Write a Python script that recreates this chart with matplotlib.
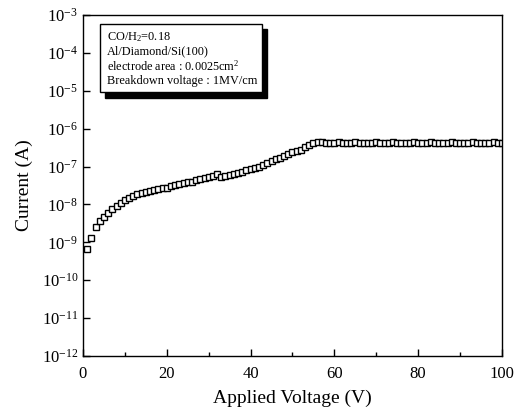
import matplotlib.pyplot as plt
import matplotlib.ticker as mticker
import numpy as np
from matplotlib.patches import Rectangle

plt.rcParams['font.family'] = ['Liberation Serif', 'DejaVu Serif']
plt.rcParams['mathtext.fontset'] = 'custom'
plt.rcParams['mathtext.rm'] = 'Liberation Serif'
plt.rcParams['mathtext.it'] = 'Liberation Serif:italic'

voltage = list(range(1, 101))
current = [
    6.5e-10, 1.3e-9, 2.6e-9, 3.7e-9, 4.8e-9, 6.0e-9, 7.4e-9, 9.0e-9, 1.1e-8, 1.3e-8,
    1.5e-8, 1.7e-8, 1.9e-8, 2.0e-8, 2.1e-8, 2.2e-8, 2.4e-8, 2.5e-8, 2.7e-8, 2.8e-8,
    3.0e-8, 3.2e-8, 3.4e-8, 3.6e-8, 3.8e-8, 4.0e-8, 4.3e-8, 4.6e-8, 4.9e-8, 5.3e-8,
    5.7e-8, 6.2e-8, 5.4e-8, 5.6e-8, 5.9e-8, 6.3e-8, 6.8e-8, 7.3e-8, 7.9e-8, 8.5e-8,
    9.3e-8, 1.0e-7, 1.1e-7, 1.25e-7, 1.4e-7, 1.55e-7, 1.7e-7, 1.9e-7, 2.1e-7, 2.35e-7,
    2.6e-7, 2.8e-7, 3.2e-7, 3.6e-7, 4.1e-7, 4.4e-7, 4.4e-7, 4.3e-7, 4.3e-7, 4.3e-7,
    4.4e-7, 4.3e-7, 4.3e-7, 4.3e-7, 4.4e-7, 4.3e-7, 4.3e-7, 4.3e-7, 4.3e-7, 4.4e-7,
    4.3e-7, 4.3e-7, 4.3e-7, 4.4e-7, 4.3e-7, 4.3e-7, 4.3e-7, 4.3e-7, 4.4e-7, 4.3e-7,
    4.3e-7, 4.3e-7, 4.4e-7, 4.3e-7, 4.3e-7, 4.3e-7, 4.3e-7, 4.4e-7, 4.3e-7, 4.3e-7,
    4.3e-7, 4.3e-7, 4.4e-7, 4.3e-7, 4.3e-7, 4.3e-7, 4.3e-7, 4.4e-7, 4.3e-7, 4.3e-7,
]
x_ticks = [0, 20, 40, 60, 80, 100]
y_exps = list(range(-12, -2))
info_lines = [
    r'CO/H$_2$=0.18',
    'Al/Diamond/Si(100)',
    r'electrode area : 0.0025cm$^2$',
    'Breakdown voltage : 1MV/cm',
]

fig = plt.figure(figsize=(5.21, 4.09), dpi=100)
ax = fig.add_axes([0.1593, 0.1296, 0.8042, 0.8337])

ax.semilogy(voltage, current, linestyle='none', marker='s', markersize=4.8,
            markerfacecolor='white', markeredgecolor='black', markeredgewidth=1.0)

ax.set_xlim(0, 100)
ax.set_ylim(1e-12, 1e-3)
ax.set_xticks(x_ticks)
ax.xaxis.set_minor_locator(mticker.MultipleLocator(10))
ax.set_yticks([10.0 ** e for e in y_exps])
ax.set_yticklabels([r'$10^{%d}$' % e for e in y_exps])
ax.yaxis.set_minor_locator(mticker.NullLocator())
ax.tick_params(axis='both', which='major', direction='in', length=5, width=1,
               labelsize=12, top=False, right=False)
ax.tick_params(axis='x', which='minor', direction='in', length=3, width=1, top=False)
ax.tick_params(axis='x', pad=7)
for s in ax.spines.values():
    s.set_linewidth(1)

ax.set_xlabel('Applied Voltage (V)', fontsize=14, labelpad=6)
ax.set_ylabel('Current (A)', fontsize=14, labelpad=6)

# text box with heavy drop shadow
bx, by, bw, bh = 0.041, 0.774, 0.386, 0.200
ax.add_patch(Rectangle((bx + 0.011, by - 0.016), bw, bh, transform=ax.transAxes,
                       facecolor='black', edgecolor='black', zorder=4))
ax.add_patch(Rectangle((bx, by), bw, bh, transform=ax.transAxes,
                       facecolor='white', edgecolor='black', linewidth=1, zorder=5))
for i, line in enumerate(info_lines):
    ax.text(bx + 0.017, by + bh - 0.038 - i * 0.043, line, transform=ax.transAxes,
            fontsize=8.8, va='center', ha='left', zorder=6)

fig.savefig('out.png', dpi=100)
